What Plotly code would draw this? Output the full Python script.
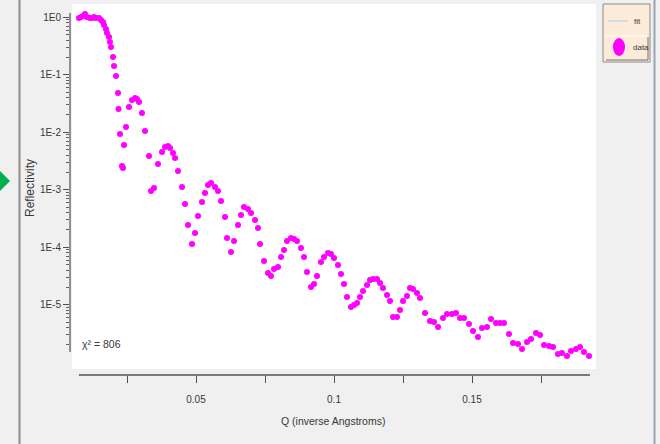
import plotly.graph_objects as go

# Reflectivity curve: momentum transfer Q (1/Å) and measured reflectivity
q_values = [
    0.00761, 0.00833, 0.00906, 0.00978, 0.01051, 0.01159, 0.01232, 0.01304, 0.01377, 0.01486,
    0.01558, 0.01630, 0.01667, 0.01739, 0.01775, 0.01848, 0.01884, 0.01920, 0.01993, 0.02029,
    0.02101, 0.02174, 0.02192, 0.02246, 0.02319, 0.02355, 0.02391, 0.02464, 0.02572, 0.02681,
    0.02790, 0.02862, 0.02935, 0.03043, 0.03152, 0.03297, 0.03370, 0.03478, 0.03623, 0.03768,
    0.03877, 0.03986, 0.04058, 0.04167, 0.04239, 0.04348, 0.04493, 0.04601, 0.04710, 0.04855,
    0.04964, 0.05072, 0.05217, 0.05326, 0.05435, 0.05543, 0.05688, 0.05797, 0.05906, 0.06051,
    0.06123, 0.06268, 0.06377, 0.06522, 0.06630, 0.06739, 0.06884, 0.06993, 0.07138, 0.07246,
    0.07319, 0.07464, 0.07609, 0.07717, 0.07826, 0.07971, 0.08080, 0.08188, 0.08297, 0.08442,
    0.08551, 0.08659, 0.08804, 0.08913, 0.09022, 0.09167, 0.09275, 0.09384, 0.09529, 0.09638,
    0.09783, 0.09891, 0.10000, 0.10145, 0.10254, 0.10362, 0.10471, 0.10616, 0.10725, 0.10833,
    0.10942, 0.11051, 0.11196, 0.11304, 0.11413, 0.11558, 0.11667, 0.11775, 0.11920, 0.12029,
    0.12138, 0.12283, 0.12391, 0.12500, 0.12645, 0.12754, 0.12862, 0.13007, 0.13116, 0.13297,
    0.13478, 0.13623, 0.13768, 0.13949, 0.14094, 0.14275, 0.14420, 0.14565, 0.14710, 0.14891,
    0.15036, 0.15217, 0.15362, 0.15543, 0.15688, 0.15870, 0.16014, 0.16159, 0.16341, 0.16486,
    0.16667, 0.16812, 0.16993, 0.17138, 0.17319, 0.17464, 0.17609, 0.17790, 0.17935, 0.18116,
    0.18261, 0.18442, 0.18587, 0.18768, 0.18913, 0.19058, 0.19239,
]
reflectivity = [
    0.972, 1.012, 1.053, 1.141, 1.012, 0.972, 0.972, 1.012, 0.972, 0.972,
    0.898, 0.828, 0.735, 0.626, 0.533, 0.454, 0.372, 0.304, 0.204, 0.142,
    0.0953, 0.0483, 0.0254, 0.00934, 0.00259, 0.00239, 0.00601, 0.01237, 0.0275, 0.0365,
    0.0395, 0.0379, 0.0336, 0.0217, 0.01053, 0.00387, 0.000953, 0.00107, 0.00281, 0.00454,
    0.00555, 0.00578, 0.00533, 0.00437, 0.00357, 0.00212, 0.00112, 0.000566, 0.000244, 0.000114,
    0.000177, 0.000350, 0.000614, 0.000880, 0.00121, 0.00131, 0.00112, 0.000953, 0.000639, 0.000336,
    0.000145, 8.29e-5, 0.000129, 0.000244, 0.000365, 0.000502, 0.000464, 0.000395, 0.000298, 0.000217,
    0.000114, 5.78e-5, 3.57e-5, 3.17e-5, 4.19e-5, 4.54e-5, 6.78e-5, 8.97e-5, 0.000129, 0.000145,
    0.000139, 0.000129, 9.72e-5, 6.78e-5, 3.72e-5, 2.04e-5, 2.30e-5, 3.17e-5, 5.55e-5, 6.78e-5,
    7.96e-5, 7.65e-5, 6.52e-5, 4.92e-5, 3.43e-5, 2.30e-5, 1.37e-5, 9.16e-6, 9.92e-6, 1.07e-5,
    1.37e-5, 1.74e-5, 2.21e-5, 2.70e-5, 2.81e-5, 2.81e-5, 2.39e-5, 1.96e-5, 1.48e-5, 1.16e-5,
    6.13e-6, 6.13e-6, 8.12e-6, 1.16e-5, 1.42e-5, 1.96e-5, 1.88e-5, 1.60e-5, 1.31e-5, 7.20e-6,
    5.23e-6, 5.02e-6, 4.11e-6, 5.89e-6, 6.92e-6, 6.92e-6, 7.20e-6, 5.89e-6, 5.89e-6, 4.64e-6,
    3.50e-6, 2.75e-6, 3.95e-6, 4.11e-6, 5.66e-6, 4.83e-6, 4.83e-6, 4.83e-6, 3.11e-6, 2.17e-6,
    2.08e-6, 1.70e-6, 2.25e-6, 2.54e-6, 3.23e-6, 2.98e-6, 2.00e-6, 1.92e-6, 1.85e-6, 1.39e-6,
    1.45e-6, 1.29e-6, 1.57e-6, 1.70e-6, 1.85e-6, 1.51e-6, 1.29e-6,
]

x_tick_vals = [0.025, 0.05, 0.075, 0.1, 0.125, 0.15, 0.175]
x_tick_text = ["", "0.05", "", "0.1", "", "0.15", ""]
y_tick_vals = [1, 1e-1, 1e-2, 1e-3, 1e-4, 1e-5]
y_tick_text = ["1E0", "1E-1", "1E-2", "1E-3", "1E-4", "1E-5"]
y_minor_vals = [m * 10.0 ** e for e in range(-6, 0) for m in range(2, 10)]

chi_label = "χ² = 806"
legend_labels = ["fit", "data"]

# Canvas and plot-area geometry (pixels)
W, H = 660, 444
ML, MR, MT, MB = 70, 64, 4, 69
PW, PH = W - ML - MR, H - MT - MB


def fx(p):
    return (p - ML) / PW


def fy(p):
    return (H - MB - p) / PH


FONT = "Liberation Sans, Arial, sans-serif"
TEXT = "#383838"
MAGENTA = "#ff00ff"

fig = go.Figure()
fig.add_trace(go.Scatter(
    x=q_values, y=reflectivity, mode="markers", name="data",
    marker=dict(color=MAGENTA, size=6, line=dict(width=0)),
    showlegend=False, hoverinfo="x+y",
))

shapes = [
    # white plotting panel
    dict(type="rect", xref="paper", yref="paper", x0=fx(72), x1=fx(596), y0=fy(369), y1=fy(4),
         fillcolor="white", line=dict(width=0), layer="below"),
    # axis lines
    dict(type="line", xref="paper", yref="paper", x0=fx(70), x1=fx(70), y0=fy(13), y1=fy(352),
         line=dict(color="#505050", width=1.2)),
    dict(type="line", xref="paper", yref="paper", x0=fx(79), x1=fx(590), y0=fy(375), y1=fy(375),
         line=dict(color="#505050", width=1.5)),
    # window borders
    dict(type="line", xref="paper", yref="paper", x0=fx(19.5), x1=fx(19.5), y0=fy(0), y1=fy(444),
         line=dict(color="#8c8c8c", width=2)),
    dict(type="line", xref="paper", yref="paper", x0=fx(654.5), x1=fx(654.5), y0=fy(0), y1=fy(444),
         line=dict(color="#9aa4b0", width=2)),
    # green pointer on the left edge
    dict(type="path", xref="paper", yref="paper",
         path=f"M {fx(-2)} {fy(169)} L {fx(10)} {fy(181)} L {fx(-2)} {fy(193)} Z",
         fillcolor="#00b050", line=dict(width=0)),
    # legend box
    dict(type="rect", xref="paper", yref="paper", x0=fx(603), x1=fx(650), y0=fy(62), y1=fy(4),
         fillcolor="#fcebd9", line=dict(color="#8a8a8a", width=1)),
    dict(type="line", xref="paper", yref="paper", x0=fx(608), x1=fx(628), y0=fy(21), y1=fy(21),
         line=dict(color="#d3dbe6", width=2)),
    dict(type="line", xref="paper", yref="paper", x0=fx(606), x1=fx(648), y0=fy(36), y1=fy(36),
         line=dict(color="#ffffff", width=1)),
    dict(type="line", xref="paper", yref="paper", x0=fx(606), x1=fx(648), y0=fy(60), y1=fy(60),
         line=dict(color="#6e6e6e", width=1)),
    dict(type="line", xref="paper", yref="paper", x0=fx(648), x1=fx(648), y0=fy(37), y1=fy(60),
         line=dict(color="#6e6e6e", width=1)),
    dict(type="circle", xref="paper", yref="paper", x0=fx(613), x1=fx(625), y0=fy(56), y1=fy(38),
         fillcolor=MAGENTA, line=dict(width=0)),
]

annotations = [
    dict(text="Reflectivity", xref="paper", yref="paper", x=fx(30), y=fy(188), textangle=-90,
         showarrow=False, xanchor="center", yanchor="middle",
         font=dict(family=FONT, size=12, color=TEXT)),
    dict(text="Q (inverse Angstroms)", xref="paper", yref="paper", x=fx(333), y=fy(421),
         showarrow=False, xanchor="center", yanchor="middle",
         font=dict(family=FONT, size=10.5, color=TEXT)),
    dict(text=chi_label, xref="paper", yref="paper", x=fx(80), y=fy(344),
         showarrow=False, xanchor="left", yanchor="middle",
         font=dict(family=FONT, size=10.5, color=TEXT)),
    dict(text=legend_labels[0], xref="paper", yref="paper", x=fx(632), y=fy(21),
         showarrow=False, xanchor="left", yanchor="middle",
         font=dict(family=FONT, size=8, color=TEXT)),
    dict(text=legend_labels[1], xref="paper", yref="paper", x=fx(631), y=fy(48),
         showarrow=False, xanchor="left", yanchor="middle",
         font=dict(family=FONT, size=8, color=TEXT)),
]

fig.update_layout(
    width=W, height=H,
    margin=dict(l=ML, r=MR, t=MT, b=MB, pad=0),
    paper_bgcolor="#f0f0f0",
    plot_bgcolor="#f0f0f0",
    showlegend=False,
    shapes=shapes,
    annotations=annotations,
    xaxis=dict(
        range=[(ML - 58) / 2760, (W - MR - 58) / 2760],
        tickmode="array", tickvals=x_tick_vals, ticktext=x_tick_text,
        ticks="outside", ticklen=7, tickwidth=1.2, tickcolor="#505050",
        ticklabelstandoff=8,
        showline=False, showgrid=False, zeroline=False,
        tickfont=dict(family=FONT, size=10, color=TEXT),
        fixedrange=True,
    ),
    yaxis=dict(
        type="log",
        range=[-(H - MB - 17.3) / 57.5, (17.3 - MT) / 57.5],
        tickmode="array", tickvals=y_tick_vals, ticktext=y_tick_text,
        ticks="outside", ticklen=6, tickwidth=1.2, tickcolor="#505050",
        minor=dict(tickmode="array", tickvals=y_minor_vals, ticks="outside",
                   ticklen=3, tickwidth=1, tickcolor="#606060", showgrid=False),
        showline=False, showgrid=False, zeroline=False,
        tickfont=dict(family=FONT, size=10, color=TEXT),
        fixedrange=True,
    ),
)

fig.write_html("out.html")
